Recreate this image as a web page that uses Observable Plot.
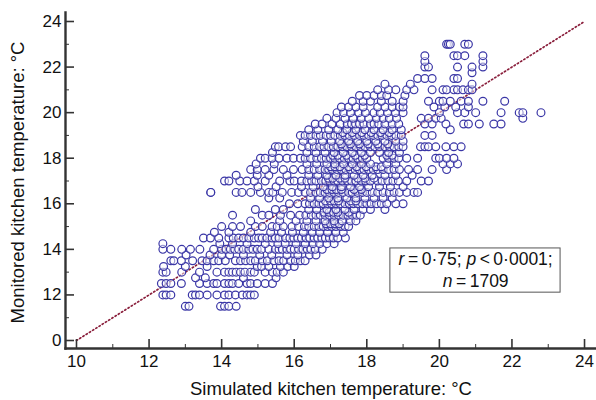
<!DOCTYPE html>
<html>
<head>
<meta charset="utf-8">
<script src="https://cdn.jsdelivr.net/npm/d3@7"></script>
<script src="https://cdn.jsdelivr.net/npm/@observablehq/plot@0.6"></script>
<style>
html,body{margin:0;padding:0;background:#fff}
</style>
</head>
<body>
<div id="chart"></div>
<script>
// x readings (simulated) for each monitored-temperature row y
const row_115 = [13.0,13.1,13.97,14.08,14.2,14.4];
const row_12 = [12.38,12.47,12.6,13.19,13.28,13.39,13.6,13.87,14.08,14.2,14.38,14.57,14.7,14.8,14.9];
const row_125 = [12.34,12.47,12.6,12.89,13.39,13.6,13.78,13.87,14.08,14.2,14.3,14.47,14.7,14.8,14.98,15.2,15.4];
const row_1275 = [13.28,13.55,14.6,15.5];
const row_13 = [12.38,12.47,12.9,13.39,13.87,14.08,14.2,14.3,14.4,14.52,14.64,14.8,14.9,15.2,15.4,15.53,15.7];
const row_1325 = [12.4,13.0,13.6,14.98,15.1,15.3,15.62,15.82,16.0];
const row_135 = [12.6,12.68,12.89,13.2,13.46,13.6,13.78,13.92,14.1,14.38,14.52,14.66,14.8,14.93,15.12,15.26,15.44,15.58,15.71,15.9,16.03,16.17,16.3];
const row_1375 = [13.02,13.68,14.0,14.22,14.6,15.05,15.38,15.8,16.1,16.42,16.6];
const row_14 = [12.38,12.6,12.9,13.14,13.4,13.78,14.0,14.12,14.24,14.36,14.47,14.6,14.75,14.86,14.98,15.1,15.3,15.48,15.58,15.67,15.8,15.9,16.0,16.12,16.24,16.36,16.46,16.58,16.77];
const row_1425 = [12.38,13.95,14.3,14.7,15.2,15.55,15.75,16.05,16.3,16.52,16.7,16.9,17.1];
const row_145 = [13.5,13.69,13.92,14.2,14.32,14.47,14.6,14.75,14.9,15.02,15.12,15.25,15.39,15.48,15.58,15.76,15.88,15.99,16.1,16.2,16.33,16.43,16.55,16.65,16.76,16.86,16.97,17.08,17.2,17.41];
const row_1475 = [13.8,14.2,14.8,15.35,15.65,15.95,16.25,16.5,16.7,16.92,17.15,17.35];
const row_15 = [14.0,14.3,14.52,14.93,15.12,15.39,15.53,15.7,15.94,16.12,16.28,16.4,16.55,16.68,16.8,16.92,17.03,17.15,17.28,17.4,17.5];
const row_15125 = [16.88,17.0,17.12,17.24];
const row_1525 = [14.8,15.6,16.05,16.35,16.6,16.85,17.1,17.32,17.55,17.7];
const row_155 = [14.3,15.12,15.3,15.62,15.9,16.15,16.32,16.47,16.6,16.72,16.85,16.97,17.1,17.22,17.35,17.48,17.6,17.72,17.82];
const row_15625 = [16.82,16.96,17.08,17.2,17.5];
const row_1575 = [14.93,15.48,15.7,16.4,16.62,16.9,17.15,17.4,17.65,17.9,18.1,18.5];
const row_16 = [15.87,16.1,16.3,16.42,16.55,16.68,16.8,16.92,17.03,17.15,17.27,17.4,17.52,17.63,17.75,17.88,18.0,18.12,18.27,18.4,18.55,18.8,19.0];
const row_16125 = [16.86,17.0,17.1,17.22,17.55,17.7];
const row_1625 = [15.3,15.6,16.45,16.7,16.95,17.2,17.45,17.7,17.95,18.2,18.45,18.7];
const row_165 = [13.7,13.7,14.4,14.56,14.8,15.07,15.3,15.41,15.67,15.93,16.12,16.3,16.45,16.6,16.72,16.85,16.97,17.1,17.22,17.35,17.5,17.6,17.75,17.88,18.0,18.15,18.3,18.45,18.62,18.75,18.9,19.1,19.3,19.4];
const row_16625 = [16.9,17.04,17.16,17.3,17.65,17.85];
const row_1675 = [15.0,15.5,16.2,16.52,16.8,17.05,17.3,17.55,17.8,18.05,18.35,18.65,19.0];
const row_17 = [14.08,14.2,14.5,14.7,14.9,15.2,15.6,15.88,16.0,16.2,16.35,16.48,16.6,16.75,16.87,16.98,17.1,17.2,17.33,17.47,17.58,17.7,17.85,17.97,18.1,18.3,18.42,18.58,18.72,18.87,19.1,19.5,19.7];
const row_17125 = [16.94,17.06,17.25,17.4,17.75,17.95,18.2];
const row_1725 = [14.4,14.98,15.3,15.8,16.4,16.65,16.9,17.15,17.4,17.65,17.9,18.15,18.5,18.8,19.25];
const row_175 = [14.8,14.98,15.2,15.44,15.7,15.98,16.22,16.4,16.55,16.7,16.85,16.95,17.05,17.18,17.3,17.42,17.55,17.68,17.8,17.92,18.05,18.18,18.3,18.45,18.6,18.75,18.9,19.15,19.4,19.8,20.2];
const row_17625 = [17.0,17.12,17.26,17.5,17.72,17.98,18.25,18.4];
const row_1775 = [14.95,15.45,16.35,16.62,16.9,17.12,17.36,17.6,17.85,18.1,18.55,18.8,20.1,20.3,20.5];
const row_18 = [15.07,15.2,15.39,15.58,15.8,15.98,16.17,16.3,16.45,16.62,16.75,16.88,17.0,17.12,17.25,17.38,17.5,17.62,17.75,17.88,18.0,18.45,18.6,18.75,18.88,19.1,19.4,19.9,20.0,20.2,20.4];
const row_18125 = [17.06,17.2,17.44,17.68,17.94,18.55,18.7];
const row_1825 = [15.4,16.35,16.6,16.85,17.1,17.35,17.6,17.85,18.1,18.35,18.6,18.9];
const row_185 = [15.48,15.57,15.76,15.9,16.22,16.4,16.55,16.7,16.82,16.95,17.08,17.2,17.33,17.45,17.58,17.7,17.83,17.95,18.1,18.22,18.35,18.5,18.63,18.75,18.88,19.0,19.48,19.6,19.7,19.9,20.18,20.4,20.6];
const row_18625 = [17.3,17.55,17.8,18.04,18.3,18.58];
const row_1875 = [16.25,16.5,16.78,17.02,17.25,17.5,17.75,18.0,18.25,18.5,18.8,19.0];
const row_19 = [16.17,16.3,16.45,16.6,16.72,16.88,17.0,17.12,17.27,17.4,17.52,17.66,17.8,17.92,18.05,18.18,18.3,18.42,18.55,18.68,18.8,18.95,19.6,19.8];
const row_19125 = [17.34,17.6,17.86,18.12,18.38,18.62];
const row_1925 = [16.4,16.65,16.95,17.2,17.45,17.7,17.95,18.2,18.45,18.7,18.95,20.3];
const row_195 = [16.58,16.77,17.04,17.27,17.46,17.58,17.69,17.8,17.92,18.1,18.2,18.33,18.5,18.7,18.88,19.6,19.8,20.18,20.67,20.8,21.1,21.5,21.7];
const row_1975 = [16.9,17.15,17.4,17.62,17.85,18.05,18.27,18.45,18.62,18.82,19.5,19.7,19.9,20.05,22.3];
const row_20 = [17.18,17.36,17.55,17.78,17.96,18.2,18.37,18.57,18.79,19.0,20.0,20.5,20.7,21.0,21.7,22.2,22.3,22.8];
const row_2025 = [17.3,17.5,17.7,17.9,18.3,18.5,18.7,18.9,19.0,19.85,20.15,20.45,20.8];
const row_205 = [17.6,17.9,18.1,18.4,18.7,19.0,19.7,20.0,20.1,20.3,20.6,20.8,21.2,21.8];
const row_2075 = [17.8,18.0,18.2,18.4,18.55,19.05];
const row_21 = [18.3,18.6,18.8,19.1,19.3,19.8,20.1,20.2,20.4,20.5,20.65,20.8,20.9];
const row_2125 = [18.5,19.2,20.9];
const row_215 = [19.4,19.6,19.8,20.4,20.5];
const row_2175 = [20.9];
const row_22 = [19.6,19.7,20.5,20.9,21.2];
const row_2225 = [19.6,21.2];
const row_225 = [19.6,20.4,20.5,20.7,21.2];
const row_23 = [20.2,20.25,20.3,20.7,20.8];

const rowTable = [
  [11.5,row_115],[12,row_12],[12.5,row_125],[12.75,row_1275],[13,row_13],[13.25,row_1325],[13.5,row_135],[13.75,row_1375],
  [14,row_14],[14.25,row_1425],[14.5,row_145],[14.75,row_1475],[15,row_15],[15.125,row_15125],[15.25,row_1525],[15.5,row_155],[15.625,row_15625],[15.75,row_1575],
  [16,row_16],[16.125,row_16125],[16.25,row_1625],[16.5,row_165],[16.625,row_16625],[16.75,row_1675],[17,row_17],[17.125,row_17125],[17.25,row_1725],[17.5,row_175],[17.625,row_17625],[17.75,row_1775],
  [18,row_18],[18.125,row_18125],[18.25,row_1825],[18.5,row_185],[18.625,row_18625],[18.75,row_1875],[19,row_19],[19.125,row_19125],[19.25,row_1925],[19.5,row_195],[19.75,row_1975],
  [20,row_20],[20.25,row_2025],[20.5,row_205],[20.75,row_2075],[21,row_21],[21.25,row_2125],[21.5,row_215],[21.75,row_2175],
  [22,row_22],[22.25,row_2225],[22.5,row_225],[23,row_23]
];
const points = rowTable.flatMap(([y,xs]) => xs.map(x => ({x,y})));

const fitLine = [{x:10,y:10},{x:24,y:24}];
const majorTicks = [10,12,14,16,18,20,22,24];
const minorTicks = [11,13,15,17,19,21,23];
const yLabels = new Map([[10,"0"],[12,"12"],[14,"14"],[16,"16"],[18,"18"],[20,"20"],[22,"22"],[24,"24"]]);
const xTitle = "Simulated kitchen temperature: °C";
const yTitle = "Monitored kitchen temperature: °C";
const statLines = [
  {x:21,y:13.55,t:"r\u2009=\u20090·75; p\u2009<\u20090·0001;"},
  {x:21,y:12.6,t:"n\u2009=\u20091709"}
];
const statBox = [{x1:18.65,x2:23.34,y1:12.1,y2:14.04}];

const ink = "#333";
const font = "Liberation Sans, Arial, sans-serif";
const plot = Plot.plot({
  width:596, height:400,
  marginLeft:65, marginRight:0, marginTop:12, marginBottom:52,
  style:{fontFamily:font, background:"#fff", color:"#111"},
  x:{domain:[9.697,24.33]},
  y:{domain:[9.649,24.395]},
  marks:[
    Plot.line(fitLine,{x:"x",y:"y",stroke:"#8a1f3c",strokeWidth:1.7,strokeDasharray:"1.3 2.5"}),
    Plot.dot(points,{x:"x",y:"y",r:3.9,stroke:"#3a36a6",strokeWidth:1.2,fill:"#fff",fillOpacity:0.5}),
    Plot.rect(statBox,{x1:"x1",x2:"x2",y1:"y1",y2:"y2",fill:"#fff",stroke:"#555",strokeWidth:1}),
    Plot.text(statLines,{x:"x",y:"y",text:"t",fontSize:17.5,fill:"#111",className:"stat"}),
    Plot.axisY(minorTicks,{anchor:"left",tickSize:-4,text:null,label:null,stroke:ink,strokeWidth:1}),
    Plot.axisX(minorTicks,{anchor:"bottom",tickSize:-4,text:null,label:null,stroke:ink,strokeWidth:1}),
    Plot.axisY(majorTicks,{anchor:"left",tickSize:-9,tickPadding:13,tickFormat:d=>yLabels.get(d),fontSize:17,fill:"#111",stroke:ink,strokeWidth:1.6,label:null}),
    Plot.axisX(majorTicks,{anchor:"bottom",tickSize:-9,tickPadding:15,fontSize:17,fill:"#111",stroke:ink,strokeWidth:1.6,label:null}),
    Plot.text([xTitle],{frameAnchor:"bottom",dy:46,fontSize:18.5,fill:"#111"}),
    Plot.text([yTitle],{frameAnchor:"left",textAnchor:"middle",rotate:-90,dx:-47,dy:2,fontSize:18.5,fill:"#111"}),
    Plot.frame({anchor:"left",stroke:ink,strokeWidth:2.4}),
    Plot.frame({anchor:"bottom",stroke:ink,strokeWidth:2.4})
  ]
});
// italic statistic letters inside the annotation
d3.select(plot).selectAll(".stat text").each(function(){
  const s = d3.select(this), t = s.text();
  s.text(null);
  t.split(/([rpn](?=\u2009))/).forEach(part => {
    if(!part) return;
    s.append("tspan").attr("font-style", /^[rpn]$/.test(part) ? "italic" : null).text(part);
  });
});
document.getElementById("chart").append(plot);
</script>
</body>
</html>
